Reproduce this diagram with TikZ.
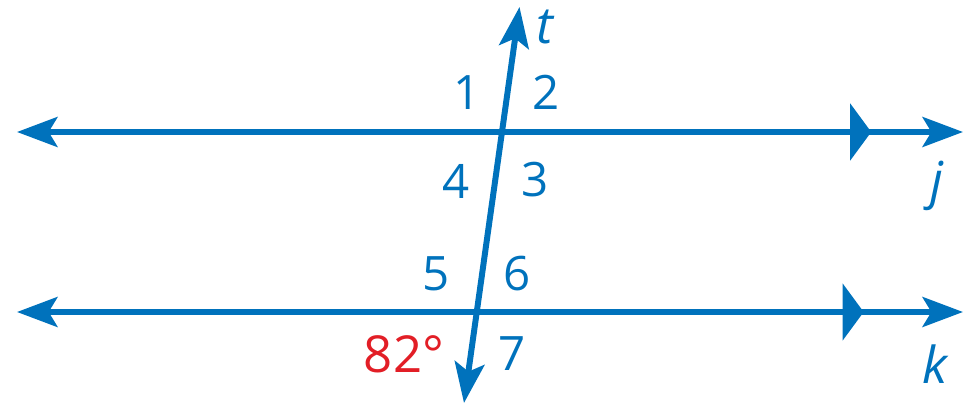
\documentclass[tikz,border=0pt]{standalone}
\usepackage{fontspec}
\setmainfont{Open Sans}
\usepackage{tikz}
\usetikzlibrary{arrows.meta, decorations.markings}
\definecolor{LineBlue}{RGB}{0, 114, 188}
\definecolor{AngleRed}{RGB}{226, 30, 38}

\tikzset{
    geoline/.style={line width=3.4pt, LineBlue,
        {Stealth[length=23pt, width=17pt, inset=5pt]}-{Stealth[length=23pt, width=17pt, inset=5pt]}},
    parmark/.style={postaction={decorate, decoration={markings,
        mark=at position #1 with {\arrow{Triangle[length=12pt, width=32pt]}}}}},
    numlabel/.style={LineBlue, font=\fontsize{27}{30}\selectfont},
    namelabel/.style={LineBlue, font=\fontsize{29}{32}\selectfont\itshape}
}

\begin{document}
\begin{tikzpicture}[x=0.02cm, y=-0.02cm]
    \useasboundingbox (0,0) rectangle (967,408);

    % ends of the two parallel lines and of the transversal
    \coordinate (jl) at (17,132);
    \coordinate (jr) at (963,132);
    \coordinate (kl) at (17,312);
    \coordinate (kr) at (963,312);
    \coordinate (ttop) at (519.5,7);
    \coordinate (tbot) at (464,403);

    % lines j and k with their parallel marks
    \draw[geoline, parmark=0.903] (jl) -- (jr);
    \draw[geoline, parmark=0.895] (kl) -- (kr);

    % transversal t
    \draw[geoline] (tbot) -- (ttop);

    % line names
    \node[namelabel] (tname) at (545,27) {t};
    \node[namelabel] (jname) at (937,186) {j};
    \node[namelabel] (kname) at (935,364) {k};

    % angle numbers
    \node[numlabel] (a1) at (467,93) {1};
    \node[numlabel] (a2) at (546,92) {2};
    \node[numlabel] (a4) at (456,181) {4};
    \node[numlabel] (a3) at (535,180) {3};
    \node[numlabel] (a5) at (436,274) {5};
    \node[numlabel] (a6) at (517,274) {6};
    \node[numlabel] (a7) at (512,354) {7};
    \node[numlabel, AngleRed, font=\fontsize{29}{32}\selectfont] (a8) at (404,354) {82°};
\end{tikzpicture}
\end{document}
